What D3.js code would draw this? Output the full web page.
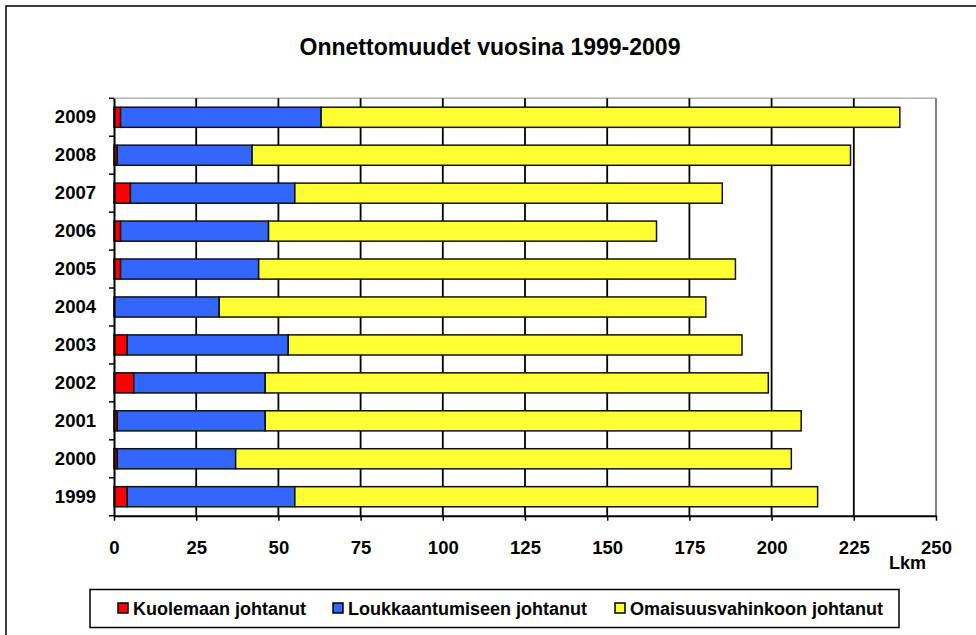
<!DOCTYPE html>
<html>
<head>
<meta charset="utf-8">
<script src="https://cdn.jsdelivr.net/npm/d3@7"></script>
<style>
  body { margin: 0; background: #fff; }
  svg { display: block; font-family: Arial, "Liberation Sans", sans-serif; }
</style>
</head>
<body>
<svg id="chart"></svg>
<script>
const years = ['1999', '2000', '2001', '2002', '2003', '2004', '2005', '2006', '2007', '2008', '2009'];
const deaths = [4, 1, 1, 6, 4, 0, 2, 2, 5, 1, 2];
const injuries = [51, 36, 45, 40, 49, 32, 42, 45, 50, 41, 61];
const property = [159, 169, 163, 153, 138, 148, 145, 118, 130, 182, 176];
const seriesNames = ['Kuolemaan johtanut', 'Loukkaantumiseen johtanut', 'Omaisuusvahinkoon johtanut'];
const xTicks = [0, 25, 50, 75, 100, 125, 150, 175, 200, 225, 250];

const colors = ['#ff0000', '#3366ff', '#ffff33'];
const W = 976, H = 635;
const plot = { left: 114, top: 98.3, right: 936, bottom: 515.7 };

const svg = d3.select('#chart').attr('width', W).attr('height', H);

// outer frame (runs off the right and bottom edge)
svg.append('rect')
    .attr('x', 6).attr('y', 6)
    .attr('width', W + 20).attr('height', H + 20)
    .attr('fill', '#fff')
    .attr('stroke', '#000')
    .attr('stroke-width', 1.5);

svg.append('text')
    .attr('x', 490).attr('y', 55)
    .attr('text-anchor', 'middle')
    .style('font-size', '23px')
    .style('font-weight', 'bold')
    .text('Onnettomuudet vuosina 1999-2009');

const rows = years.map((y, i) => ({ year: y, s0: deaths[i], s1: injuries[i], s2: property[i] }));
const stacked = d3.stack().keys(['s0', 's1', 's2'])(rows);

const x = d3.scaleLinear().domain([0, 250]).range([plot.left, plot.right]);
const y = d3.scaleBand()
    .domain(years.slice().reverse())
    .range([plot.top, plot.bottom])
    .paddingInner(0.47)
    .paddingOuter(0.235);

// plot border: light top, darker right
svg.append('line')
    .attr('x1', plot.left).attr('x2', plot.right)
    .attr('y1', plot.top).attr('y2', plot.top)
    .attr('stroke', '#b0b0b0').attr('stroke-width', 1.5);
svg.append('line')
    .attr('x1', plot.right).attr('x2', plot.right)
    .attr('y1', plot.top).attr('y2', plot.bottom)
    .attr('stroke', '#808080').attr('stroke-width', 2);

// gridlines
svg.append('g')
    .selectAll('line')
    .data(xTicks.filter(t => t > 0 && t < 250))
    .join('line')
    .attr('x1', d => x(d)).attr('x2', d => x(d))
    .attr('y1', plot.top).attr('y2', plot.bottom)
    .attr('stroke', '#000')
    .attr('stroke-width', 1.8);

// bars
svg.append('g')
    .selectAll('g')
    .data(stacked)
    .join('g')
    .attr('fill', (d, i) => colors[i])
    .selectAll('rect')
    .data(d => d)
    .join('rect')
    .attr('x', d => x(d[0]))
    .attr('y', d => y(d.data.year))
    .attr('width', d => x(d[1]) - x(d[0]))
    .attr('height', y.bandwidth())
    .attr('stroke', '#111')
    .attr('stroke-width', 1.5);

// x axis
const xAxis = svg.append('g')
    .attr('transform', `translate(0, ${plot.bottom})`)
    .call(d3.axisBottom(x).tickValues(xTicks).tickSize(5).tickPadding(20).tickSizeOuter(0));
xAxis.select('.domain').attr('stroke', '#000').attr('stroke-width', 2);
xAxis.selectAll('.tick line').attr('stroke', '#000').attr('stroke-width', 1.5);
xAxis.selectAll('.tick text')
    .style('font-size', '18.5px')
    .style('font-weight', 'bold')
    .style('font-family', 'Arial, "Liberation Sans", sans-serif')
    .attr('fill', '#000');

// y axis
const yAxis = svg.append('g')
    .attr('transform', `translate(${plot.left}, 0)`)
    .call(d3.axisLeft(y).tickSize(0).tickPadding(18).tickSizeOuter(0));
yAxis.select('.domain').attr('stroke', '#000').attr('stroke-width', 2);
yAxis.selectAll('.tick text')
    .style('font-size', '18.5px')
    .style('font-weight', 'bold')
    .style('font-family', 'Arial, "Liberation Sans", sans-serif')
    .attr('fill', '#000');

// category boundary ticks
const bounds = d3.range(years.length + 1).map(i => plot.top + i * y.step());
svg.append('g')
    .selectAll('line')
    .data(bounds)
    .join('line')
    .attr('x1', plot.left - 5).attr('x2', plot.left)
    .attr('y1', d => d).attr('y2', d => d)
    .attr('stroke', '#000')
    .attr('stroke-width', 1.5);

svg.append('text')
    .attr('x', 926).attr('y', 569)
    .attr('text-anchor', 'end')
    .style('font-size', '18px')
    .style('font-weight', 'bold')
    .text('Lkm');

// legend
const legend = svg.append('g');
legend.append('rect')
    .attr('x', 90).attr('y', 589.5)
    .attr('width', 809).attr('height', 38)
    .attr('fill', '#fff')
    .attr('stroke', '#000')
    .attr('stroke-width', 1.5);

const legendX = [118, 333, 615];
seriesNames.forEach((name, i) => {
    legend.append('rect')
        .attr('x', legendX[i]).attr('y', 603)
        .attr('width', 10).attr('height', 10)
        .attr('fill', colors[i])
        .attr('stroke', '#000')
        .attr('stroke-width', 1.5);
    legend.append('text')
        .attr('x', legendX[i] + 15).attr('y', 614.5)
        .style('font-size', '18px')
        .style('font-weight', 'bold')
        .text(name);
});
</script>
</body>
</html>
